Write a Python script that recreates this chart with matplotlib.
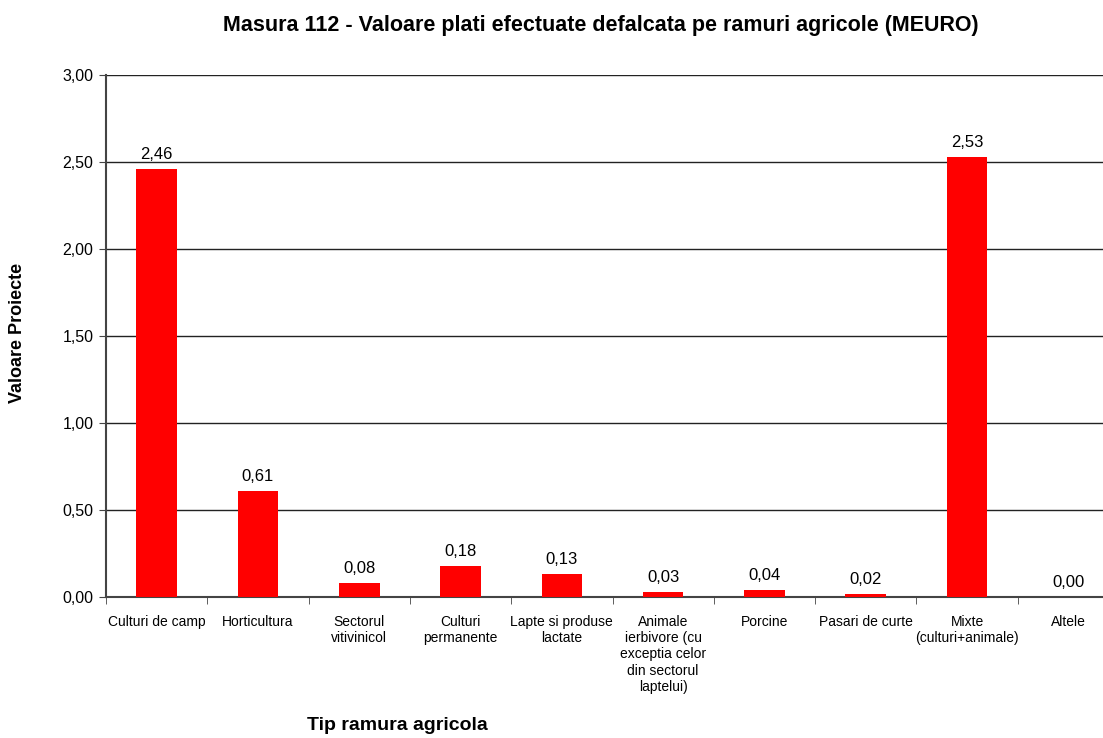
import matplotlib
matplotlib.use("Agg")
import matplotlib.pyplot as plt
from matplotlib import font_manager

names = {f.name for f in font_manager.fontManager.ttflist}
fam = "Liberation Sans Narrow" if "Liberation Sans Narrow" in names else "Liberation Sans"
plt.rcParams['font.family'] = [fam, 'DejaVu Sans']

categories = ["Culturi de camp", "Horticultura", "Sectorul\nvitivinicol", "Culturi\npermanente",
              "Lapte si produse\nlactate", "Animale\nierbivore (cu\nexceptia celor\ndin sectorul\nlaptelui)",
              "Porcine", "Pasari de curte", "Mixte\n(culturi+animale)", "Altele"]
values = [2.46, 0.61, 0.08, 0.18, 0.13, 0.03, 0.04, 0.02, 2.53, 0.00]
yticks = [0.0, 0.5, 1.0, 1.5, 2.0, 2.5, 3.0]

fig = plt.figure(figsize=(11.03, 7.38), dpi=100)
ax = fig.add_axes([106/1103, 1 - 597/738, 1013/1103, (597-75)/738])
x = list(range(len(categories)))
ax.bar(x, values, width=0.4, color="#ff0000", zorder=3)
ax.set_xlim(-0.5, len(categories) - 0.5)
ax.set_ylim(0, 3.0)
ax.set_yticks(yticks)
ax.set_yticklabels([f"{v:.2f}".replace(".", ",") for v in yticks], fontsize=11.5)
ax.yaxis.grid(True, color="#222222", linewidth=1.0, zorder=0)
ax.set_xticks(x)
ax.set_xticklabels(categories, fontsize=10, linespacing=1.2)
ax.set_xticks([i + 0.5 for i in range(-1, len(categories))], minor=True)
ax.tick_params(axis="x", which="major", length=0, pad=13)
ax.tick_params(axis="x", which="minor", length=5, color="#444444")
ax.tick_params(axis="y", length=5, color="#444444", pad=4)
for s in ["top", "right"]:
    ax.spines[s].set_visible(False)
ax.spines["left"].set_color("#444444")
ax.spines["bottom"].set_color("#444444")
ax.spines["left"].set_linewidth(1.5)
ax.spines["bottom"].set_linewidth(1.5)

for xi, v in zip(x, values):
    ax.text(xi, v + 0.04, f"{v:.2f}".replace(".", ","), ha="center", va="bottom", fontsize=12)

fig.text(18/1103, 1 - 333/738, "Valoare Proiecte", ha="center", va="center", rotation=90,
         fontsize=13, fontweight="bold")
fig.text(397/1103, 1 - 726/738, "Tip ramura agricola", ha="center", va="center", fontsize=14, fontweight="bold")
fig.text(601/1103, 1 - 25/738, "Masura 112 - Valoare plati efectuate defalcata pe ramuri agricole (MEURO)",
         ha="center", va="center", fontsize=15.5, fontweight="bold")

fig.savefig("out.png", dpi=100)
